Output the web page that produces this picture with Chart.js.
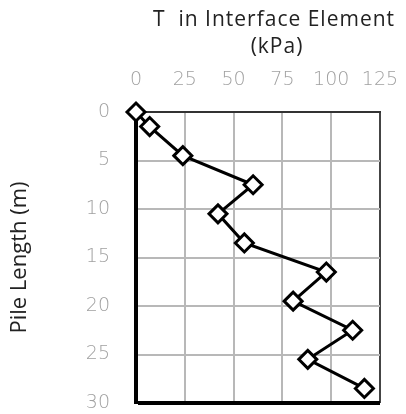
<!DOCTYPE html>
<html>
<head>
<meta charset="utf-8">
<script src="https://cdn.jsdelivr.net/npm/chart.js@4"></script>
<style>
  html, body { margin: 0; padding: 0; background: #fff; }
  #wrap { width: 406px; height: 414px; }
</style>
</head>
<body>
<div id="wrap"><canvas id="chart" width="406" height="414"></canvas></div>
<script>
// Shear stress along the pile
const depths = [0, 1.5, 4.5, 7.5, 10.5, 13.5, 16.5, 19.5, 22.5, 25.5, 28.5];
const stress = [0, 7, 24, 60, 42, 55.5, 97.5, 80.5, 111, 88, 117];

const xTicks = [0, 25, 50, 75, 100, 125];
const yTicks = [0, 5, 10, 15, 20, 25, 30];
const xTitleLines = ['T  in Interface Element', '(kPa)'];
const yTitle = 'Pile Length (m)';

const points = depths.map((d, i) => ({ x: stress[i], y: d }));

// draw the two-line axis title above the top axis
const topTitle = {
    id: 'topTitle',
    afterDraw(chart) {
        const ctx = chart.ctx;
        ctx.save();
        ctx.fillStyle = '#222';
        ctx.font = '21px "Open Sans"';
        ctx.letterSpacing = '1px';
        ctx.textAlign = 'center';
        ctx.textBaseline = 'middle';
        ctx.fillText(xTitleLines[0], 274, 20);
        ctx.fillText(xTitleLines[1], 277, 47);
        ctx.restore();
    }
};

// drop the label overhang padding so the plot box stays where we put it
function noOverhang(s) {
    s.paddingLeft = 0;
    s.paddingRight = 0;
    s.paddingTop = 0;
    s.paddingBottom = 0;
}

const tickFont = { family: 'DejaVu Sans', size: 19, weight: 200 };

new Chart(document.getElementById('chart'), {
    type: 'scatter',
    data: {
        datasets: [{
            data: points,
            showLine: true,
            borderColor: '#000',
            borderWidth: 3,
            pointStyle: 'rectRot',
            pointRadius: 9,
            pointBorderWidth: 3,
            pointBackgroundColor: '#fff',
            pointBorderColor: '#000',
            clip: false
        }]
    },
    options: {
        responsive: false,
        animation: false,
        layout: { autoPadding: false, padding: { left: 0, right: 26, top: 0, bottom: 11 } },
        plugins: {
            legend: { display: false },
            tooltip: { enabled: false }
        },
        scales: {
            x: {
                type: 'linear',
                position: 'top',
                min: 0,
                max: 125,
                afterBuildTicks: s => { s.ticks = xTicks.map(v => ({ value: v })); },
                afterFit: s => { s.height = 112; noOverhang(s); },
                border: { color: '#333', width: 2 },
                grid: {
                    drawTicks: false,
                    color: c => c.tick.value === 125 ? '#444' : (c.tick.value === 0 ? 'rgba(0,0,0,0)' : '#b8b8b8'),
                    lineWidth: 2
                },
                ticks: {
                    padding: 21,
                    color: '#a0a0a0',
                    font: tickFont
                }
            },
            y: {
                type: 'linear',
                reverse: true,
                min: 0,
                max: 30,
                afterBuildTicks: s => { s.ticks = yTicks.map(v => ({ value: v })); },
                afterFit: s => { s.width = 136; noOverhang(s); },
                border: { color: '#000', width: 4 },
                grid: {
                    drawTicks: false,
                    color: c => c.tick.value === 30 ? '#000' : (c.tick.value === 0 ? 'rgba(0,0,0,0)' : '#b8b8b8'),
                    lineWidth: c => c.tick.value === 30 ? 4 : 2
                },
                ticks: {
                    padding: 26,
                    color: '#a0a0a0',
                    font: tickFont
                },
                title: {
                    display: true,
                    text: yTitle,
                    color: '#222',
                    font: { family: 'Open Sans', size: 22 },
                    padding: { top: 7, bottom: 0 }
                }
            }
        }
    },
    plugins: [topTitle]
});
</script>
</body>
</html>
